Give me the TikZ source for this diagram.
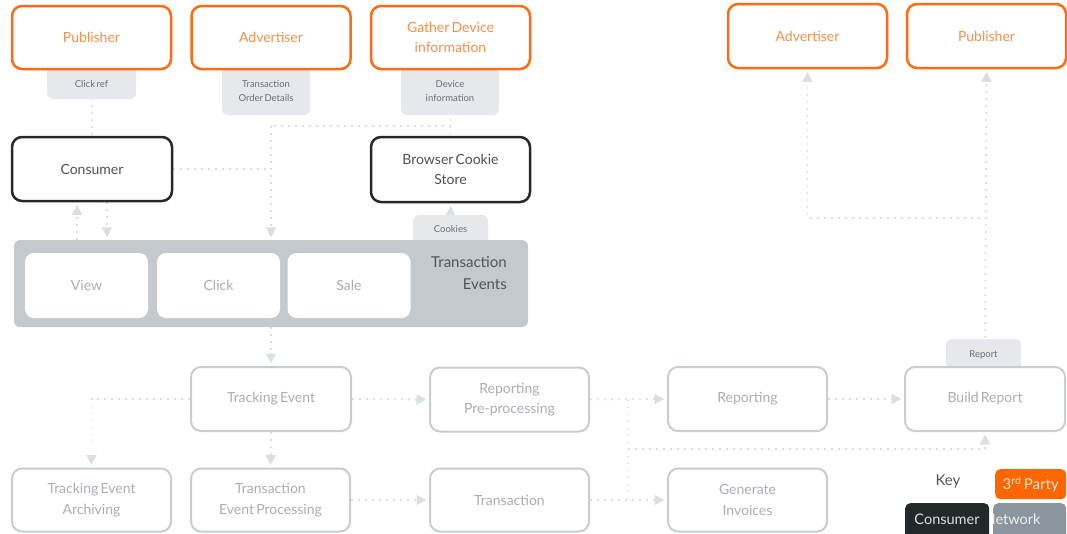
\documentclass[tikz,border=0pt]{standalone}
\usepackage{fontspec}
\setmainfont{Lato}[WordSpace=0.6]
\usetikzlibrary{arrows.meta,calc}
\pgfdeclarelayer{bg}
\pgfsetlayers{bg,main}
\definecolor{orng}{HTML}{FF6A13}
\definecolor{orngtxt}{HTML}{F8904A}
\definecolor{dark}{HTML}{25292C}
\definecolor{darktxt}{HTML}{4D5154}
\definecolor{gbord}{HTML}{C8CDD2}
\definecolor{gtxt}{HTML}{A8AEB4}
\definecolor{panelc}{HTML}{C4C9CE}
\definecolor{paneltxt}{HTML}{50555A}
\definecolor{lblfill}{HTML}{E6E8EB}
\definecolor{lbltxt}{HTML}{6A6F74}
\definecolor{connc}{HTML}{DCDFE2}
\definecolor{keyorng}{HTML}{FF6600}
\definecolor{keydark}{HTML}{23282B}
\definecolor{keygray}{HTML}{8A959E}
\begin{document}
\begin{tikzpicture}[x=1pt,y=-1pt,
  base/.style={rounded corners=10pt, fill=white, minimum width=159pt, minimum height=63pt,
    align=center, font=\fontsize{14}{20.5}\selectfont, inner sep=0pt},
  party/.style={base, draw=orng, line width=2.5pt, text=orngtxt},
  cons/.style={base, draw=dark, line width=2.5pt, text=darktxt},
  net/.style={base, draw=gbord, line width=2pt, text=gtxt},
  ev/.style={rounded corners=9pt, fill=white, minimum width=123pt, minimum height=65pt,
    text=gtxt, font=\fontsize{14}{20}\selectfont, inner sep=0pt},
  lbl/.style={rounded corners=6pt, fill=lblfill, text=lbltxt, font=\fontsize{9.5}{14}\selectfont,
    inner sep=0pt, anchor=base},
  conn/.style={draw=connc, line width=1.8pt, dash pattern=on 1.8pt off 5.2pt},
  arr/.style={conn, shorten >=2.5pt, -{Triangle[width=10pt,length=10pt]}},
  keybox/.style={rounded corners=5pt, inner sep=0pt},
]
\useasboundingbox (0,0) rectangle (1067,533);

% labels (drawn first, partly hidden by boxes)
\node[lbl, minimum width=89pt, text height=27pt, text depth=12pt] (clickref) at (91.5,87) {Click ref};
\node[lbl, minimum width=88pt, text height=25.5pt, text depth=27.5pt] (txlbl) at (266,87.5)
  {\begin{tabular}[t]{@{}c@{}}Transaction\\Order Details\end{tabular}};
\node[lbl, minimum width=98pt, text height=25.5pt, text depth=27.5pt] (devlbl) at (450,87.5)
  {\begin{tabular}[t]{@{}c@{}}Device\\information\end{tabular}};
\node[lbl, minimum width=75pt, text height=17pt, text depth=15pt] (cookielbl) at (450.5,232) {Cookies};
\node[lbl, minimum width=75pt, text height=18pt, text depth=19pt] (reportlbl) at (983.5,357) {Report};

% top row
\node[party] (pub1) at (91.5,37.5) {Publisher};
\node[party] (adv1) at (271,37.5) {Advertiser};
\node[party] (gather) at (450.5,37.5) {Gather Device\\information};
\node[party, minimum height=64pt] (adv2) at (807.5,36) {Advertiser};
\node[party, minimum height=64pt] (pub2) at (986.5,36) {Publisher};

% consumer row
\node[cons, minimum width=160pt, minimum height=64pt] (consumer) at (92,169) {Consumer};
\node[cons, minimum height=65pt] (cookie) at (450.5,169.5) {Browser Cookie\\Store};

% transaction events panel
\node[rounded corners=6pt, fill=panelc, minimum width=514pt, minimum height=87pt, inner sep=0pt] (panel) at (271,283.5) {};
\node[ev] (view) at (86.5,285.5) {View};
\node[ev] (click) at (218.5,285.5) {Click};
\node[ev] (sale) at (349,285.5) {Sale};
\node[align=right, anchor=east, text=paneltxt, font=\fontsize{15}{22}\selectfont, inner sep=0pt] (tevents) at (507,273) {Transaction\\Events};

% network processes
\node[net, minimum width=160pt, minimum height=64pt] (tracking) at (271,399) {Tracking Event};
\node[net, minimum height=64pt] (repre) at (509.5,399.5) {Reporting\\Pre-processing};
\node[net, minimum height=64pt] (reporting) at (747.5,399) {Reporting};
\node[net, minimum width=160pt, minimum height=64pt] (build) at (985,399) {Build Report};
\node[net] (archiving) at (91.5,500) {Tracking Event\\Archiving};
\node[net] (tep) at (270.5,500) {Transaction\\Event Processing};
\node[net] (transaction) at (509.5,500) {Transaction};
\node[net] (invoices) at (747.5,500) {Generate\\Invoices};

% key
\node[text=paneltxt, font=\fontsize{15}{18}\selectfont, inner sep=0pt] (key) at (948,481) {Key};
\node[keybox, fill=keyorng, minimum width=71pt, minimum height=30pt, anchor=north west,
  text=white!85!keyorng, font=\fontsize{15}{18}\selectfont] (k3rd) at (995,469) {3\textsuperscript{rd}\,Party};
\node[keybox, fill=keydark, minimum width=84pt, minimum height=36pt, anchor=north west] (kcons) at (905,503) {};
\node[text=white!85!keydark, font=\fontsize{14.5}{18}\selectfont, inner sep=0pt] (kconstxt) at (947,519) {Consumer};
\node[keybox, fill=keygray, minimum width=73pt, minimum height=36pt, anchor=north west] (knet) at (993,503) {};
\begin{scope}
  \clip[rounded corners=5pt] (knet.north west) rectangle (knet.south east);
  \node[text=white!85!keygray, font=\fontsize{14.5}{18}\selectfont, inner sep=0pt, anchor=west] (knettxt) at (984.5,519) {Network};
\end{scope}

% connectors
\begin{pgfonlayer}{bg}
  \draw[conn] (pub1.south) -- (consumer.north);
  \coordinate (cu) at ($(consumer.south)+(-15,0)$);
  \coordinate (cd) at ($(consumer.south)+(15,0)$);
  \draw[arr] (cu |- panel.north) -- (cu);
  \draw[arr] (cd) -- (cd |- panel.north);
  \coordinate (j1) at (adv1.south |- 0,126);
  \draw[conn] (gather.south) -- (cookie.north);
  \draw[conn] (cookie.north |- j1) -- (j1);
  \draw[arr] (j1) -- (j1 |- panel.north);
  \draw[conn] (consumer.east) -- (consumer.east -| j1);
  \draw[arr] (cookie.south |- panel.north) -- (cookie.south);
  \draw[arr] (tracking.north |- panel.south) -- (tracking.north);
  \draw[arr] (tracking.west) -| (archiving.north);
  \draw[arr] (tracking.south) -- (tep.north);
  \draw[arr] (tracking.east) -- (repre.west);
  \draw[arr] (tep.east) -- (transaction.west);
  \draw[arr] (repre.east) -- (reporting.west);
  \draw[arr] (transaction.east) -- (invoices.west);
  \draw[arr] (reporting.east) -- (build.west);
  \coordinate (j2) at (628,449);
  \draw[conn] (j2 |- repre.east) -- (j2 |- transaction.east);
  \draw[arr] (j2) -| (build.south);
  \draw[arr] (build.north) -- (pub2.south);
  \coordinate (j3) at (pub2.south |- 0,218);
  \draw[arr] (j3) -| (adv2.south);
\end{pgfonlayer}
\end{tikzpicture}
\end{document}
